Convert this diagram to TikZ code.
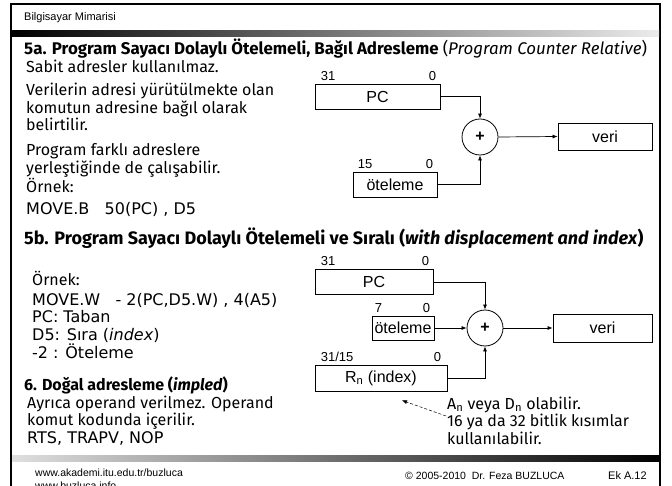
\documentclass[tikz,border=0pt]{standalone}
\usepackage{fontspec}
\setmainfont{Fira Sans}
\newfontfamily\verd{DejaVu Sans}
\newfontfamily\arial{Liberation Sans}
\usetikzlibrary{arrows.meta,positioning,calc}

\begin{document}
\begin{tikzpicture}[x=1pt,y=-1pt,
  >={Latex[length=5pt,width=4pt]},
  kutu/.style={draw,line width=0.8pt,inner sep=0pt,minimum height=25pt,font=\arial\fontsize{16}{18}\selectfont},
  bitno/.style={inner sep=0pt,font=\arial\fontsize{13}{14}\selectfont},
  topla/.style={draw,circle,line width=0.8pt,minimum size=36pt,inner sep=0pt,font=\arial\bfseries\fontsize{16}{18}\selectfont},
  yazi/.style={anchor=base west,inner sep=0pt,align=left,font=\fontsize{16}{17.5}\selectfont},
  kod/.style={anchor=base west,inner sep=0pt,align=left,font=\verd\fontsize{16}{18}\selectfont},
  baslik/.style={anchor=base west,inner sep=0pt,font=\bfseries\fontsize{18}{20}\selectfont},
  ok/.style={->,line width=0.7pt},
  kucuk/.style={anchor=base west,inner sep=0pt,font=\arial\fontsize{10.5}{12}\selectfont}]

\useasboundingbox (0,0) rectangle (672,486);
\clip (0,0) rectangle (672,486);

% cerceve ve seritler
\draw[line width=2pt] (11,490) -- (11,4) -- (660,4) -- (660,490);
\shade[left color=black, middle color=gray!35, right color=gray!15] (12,31) rectangle (659,37);
\shade[left color=gray!25, middle color=gray!35, right color=black] (12,455) rectangle (659,461);

\node[kucuk, font=\arial\fontsize{11}{12}\selectfont] (ust) at (24,21) {Bilgisayar Mimarisi};

% 5a  (cok satirli dugumlerde base = son satir)
\node[baslik, font=\bfseries\fontsize{16.9}{20}\selectfont] (b5a) at (24,55) {5a. Program Sayacı Dolaylı Ötelemeli, Bağıl Adresleme {\mdseries(\textit{Program Counter Relative})}};
\node[yazi] (sabit) at (26,73) {Sabit adresler kullanılmaz.};
\node[yazi] (veriler) at (26,131) {Verilerin adresi yürütülmekte olan\\komutun adresine bağıl olarak\\belirtilir.};
\node[yazi] (farkli) at (26,173.5) {Program farklı adreslere\\yerleştiğinde de çalışabilir.};
\node[yazi] (ornekA) at (26,193) {Örnek:};
\node[kod] (komutA) at (26,215) {MOVE.B\ \ \ 50(PC) , D5};

\node[kutu, minimum width=125pt] (pcA) at (377.5,96.5) {PC};
\node[bitno, above right=3pt and 6pt of pcA.north west] (pcAsol) {31};
\node[bitno, above left=3pt and 4pt of pcA.north east] (pcAsag) {0};
\node[topla] (toplaA) at (480,137) {+};
\node[kutu, minimum width=94pt, minimum height=27pt] (veriA) at (605,136.5) {veri};
\node[kutu, minimum width=84pt] (otelA) at (395,184.5) {öteleme};
\node[bitno, above right=3pt and 5pt of otelA.north west] (otelAsol) {15};
\node[bitno, above left=3pt and 4pt of otelA.north east] (otelAsag) {0};

\draw[ok] (pcA.east) -| (toplaA.north);
\draw[ok] (otelA.east) -| (toplaA.south);
\draw[ok] (toplaA.east) -- (veriA.west);

% 5b
\node[baslik, font=\bfseries\fontsize{18}{20}\selectfont] (b5b) at (24,245) {5b. Program Sayacı Dolaylı Ötelemeli ve Sıralı (\textit{with displacement and index})};
\node[yazi] (ornekB) at (32,286) {Örnek:};
\node[kod] (komutB) at (32,359) {MOVE.W\ \ \ - 2(PC,D5.W) , 4(A5)\\PC: Taban\\D5: Sıra (\textit{index})\\-2 : Öteleme};

\node[kutu, minimum width=118pt] (pcB) at (374,282) {PC};
\node[bitno, above right=3pt and 6pt of pcB.north west] (pcBsol) {31};
\node[bitno, above left=3pt and 4pt of pcB.north east] (pcBsag) {0};
\node[topla] (toplaB) at (485,328) {+};
\node[kutu, minimum width=62pt, minimum height=24pt] (otelB) at (403,328) {öteleme};
\node[bitno, above right=3pt and 3pt of otelB.north west] (otelBsol) {7};
\node[bitno, above left=3pt and 4pt of otelB.north east] (otelBsag) {0};
\node[kutu, minimum width=99pt, minimum height=28pt] (veriB) at (602.5,328) {veri};
\node[kutu, minimum width=132pt, minimum height=26pt] (rnB) at (381,378) {R\textsubscript{n} (index)};
\node[bitno, above right=3pt and 6pt of rnB.north west] (rnBsol) {31/15};
\node[bitno, above left=3pt and 6pt of rnB.north east] (rnBsag) {0};

\draw[ok] (pcB.east) -| (toplaB.north);
\draw[ok] (otelB.east) -- (toplaB.west);
\draw[ok] (toplaB.east) -- (veriB.west);
\draw[ok] (rnB.east) -| (toplaB.south);

\node[yazi] (notB) at (447,444) {A\textsubscript{n} veya D\textsubscript{n} olabilir.\\16 ya da 32 bitlik kısımlar\\kullanılabilir.};
\coordinate (okucu) at (446,416);
\draw[->, densely dashed, line width=0.5pt] (okucu) -- ([xshift=21pt,yshift=-9pt]rnB.south);

% 6
\node[baslik, font=\bfseries\fontsize{16}{20}\selectfont] (b6) at (24,390) {6. Doğal adresleme (\textit{impled})};
\node[yazi] (ayrica) at (27,425.5) {Ayrıca operand verilmez. Operand\\komut kodunda içerilir.};
\node[kod] (rts) at (27,443) {RTS, TRAPV, NOP};

% alt bilgi
\node[kucuk] (url1) at (35,476) {www.akademi.itu.edu.tr/buzluca};
\node[kucuk] (url2) at (35,489) {www.buzluca.info};
\node[kucuk] (telif) at (405,479) {© 2005-2010\ \ Dr. Feza BUZLUCA};
\node[kucuk, font=\arial\fontsize{11}{12}\selectfont] (sayfa) at (608,479) {Ek A.12};

\end{tikzpicture}
\end{document}
